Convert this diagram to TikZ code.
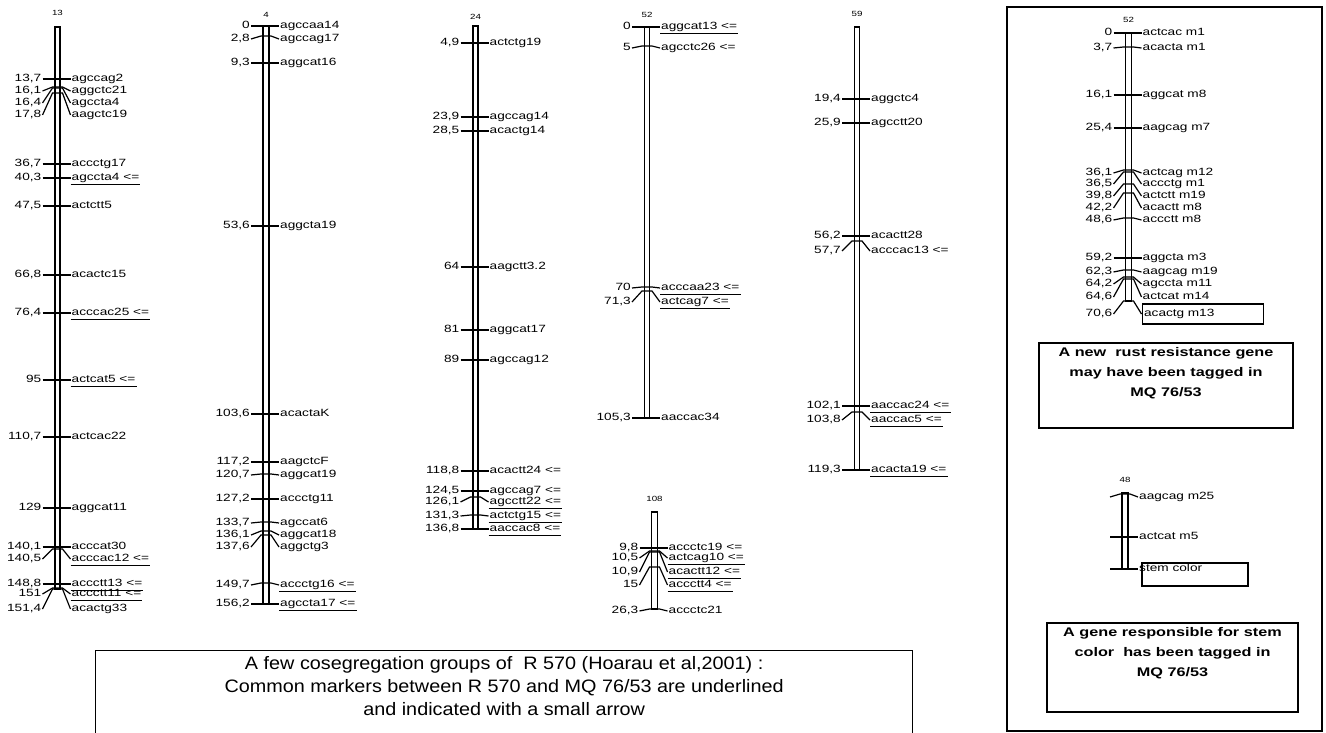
\documentclass[tikz,border=0pt]{standalone}
\usepackage{fontspec}
\setmainfont{Liberation Sans}
\newfontfamily\mapfont[FakeStretch=1.3]{Liberation Sans}
\newfontfamily\notefont[FakeStretch=1.1]{Liberation Sans}
\usetikzlibrary{positioning}
\tikzset{
  numlab/.style={font=\mapfont\fontsize{10.5}{10.5}\selectfont, anchor=east,
                 inner sep=1pt, text height=7.5pt, text depth=2.5pt},
  mrklab/.style={font=\mapfont\fontsize{10.5}{10.5}\selectfont, anchor=west,
                 inner sep=1pt, text height=7.5pt, text depth=2.5pt},
  plainlab/.style={},
  ulline/.style={draw, line width=1.2pt},
  ul/.style={append after command={([yshift=-0.5pt]\tikzlastnode.south west)
             edge[ulline] ([yshift=-0.5pt]\tikzlastnode.south east)}},
  boxlab/.style={draw, line width=1.2pt, text width=117pt, minimum height=20pt,
                 align=left, inner sep=2pt},
  tickline/.style={line width=1.2pt},
  chrbar/.style={line width=1.4pt},
  chrtitle/.style={font=\mapfont\fontsize{7.5}{7.5}\selectfont, inner sep=0pt},
  notebox/.style={draw, line width=1.4pt},
  notetext/.style={font=\mapfont\bfseries\fontsize{12.5}{20}\selectfont,
                   align=center, inner sep=0pt},
}
% marker: id, bar x, tick y, label y, position, name, label style
\newcommand{\mrk}[7]{%
  \node[numlab] (n#1) at (#2-15,#4) {#5};
  \node[mrklab,#7] (m#1) at (#2+13,#4) {#6};
  \draw[tickline] (n#1.east) -- (#2-5,#3) -- (#2+5,#3) -- (m#1.west);
}

\begin{document}
\begin{tikzpicture}[x=1pt, y=-1pt]
  \useasboundingbox (0,0) rectangle (1326,733);

  % group 13
  \node[chrtitle] (t1) at (57.5,13) {13};
  \draw[chrbar] (55,27) rectangle (60,589);
  \mrk{a1}{57.5}{79}{79}{13,7}{agccag2}{plainlab}
  \mrk{a2}{57.5}{87}{91}{16,1}{aggctc21}{plainlab}
  \mrk{a3}{57.5}{88}{103}{16,4}{agccta4}{plainlab}
  \mrk{a4}{57.5}{93}{115}{17,8}{aagctc19}{plainlab}
  \mrk{a5}{57.5}{164}{164}{36,7}{accctg17}{plainlab}
  \mrk{a6}{57.5}{178}{178}{40,3}{agccta4 <=}{ul}
  \mrk{a7}{57.5}{206}{206}{47,5}{actctt5}{plainlab}
  \mrk{a8}{57.5}{275}{275}{66,8}{acactc15}{plainlab}
  \mrk{a9}{57.5}{313}{313}{76,4}{acccac25 <=}{ul}
  \mrk{a10}{57.5}{380}{380}{95}{actcat5 <=}{ul}
  \mrk{a11}{57.5}{437}{437}{110,7}{actcac22}{plainlab}
  \mrk{a12}{57.5}{508}{508}{129}{aggcat11}{plainlab}
  \mrk{a13}{57.5}{547}{547}{140,1}{acccat30}{plainlab}
  \mrk{a14}{57.5}{549}{559}{140,5}{acccac12 <=}{ul}
  \mrk{a15}{57.5}{584}{584}{148,8}{accctt13 <=}{ul}
  \mrk{a16}{57.5}{588}{594}{151}{accctt11 <=}{ul}
  \mrk{a17}{57.5}{589}{609}{151,4}{acactg33}{plainlab}

  % group 4
  \node[chrtitle] (t2) at (266,15) {4};
  \draw[chrbar] (263,26) rectangle (269,604);
  \mrk{b1}{266}{26}{26}{0}{agccaa14}{plainlab}
  \mrk{b2}{266}{36}{39}{2,8}{agccag17}{plainlab}
  \mrk{b3}{266}{63}{63}{9,3}{aggcat16}{plainlab}
  \mrk{b4}{266}{226}{226}{53,6}{aggcta19}{plainlab}
  \mrk{b5}{266}{414}{414}{103,6}{acactaK}{plainlab}
  \mrk{b6}{266}{462}{462}{117,2}{aagctcF}{plainlab}
  \mrk{b7}{266}{474}{475}{120,7}{aggcat19}{plainlab}
  \mrk{b8}{266}{499}{499}{127,2}{accctg11}{plainlab}
  \mrk{b9}{266}{522}{523}{133,7}{agccat6}{plainlab}
  \mrk{b10}{266}{531}{535}{136,1}{aggcat18}{plainlab}
  \mrk{b11}{266}{535}{547}{137,6}{aggctg3}{plainlab}
  \mrk{b12}{266}{583}{585}{149,7}{accctg16 <=}{ul}
  \mrk{b13}{266}{604}{604}{156,2}{agccta17 <=}{ul}

  % group 24
  \node[chrtitle] (t3) at (475.5,17) {24};
  \draw[chrbar] (473,26) rectangle (478,529);
  \mrk{c1}{475.5}{43}{43}{4,9}{actctg19}{plainlab}
  \mrk{c2}{475.5}{117}{117}{23,9}{agccag14}{plainlab}
  \mrk{c3}{475.5}{131}{131}{28,5}{acactg14}{plainlab}
  \mrk{c4}{475.5}{267}{267}{64}{aagctt3.2}{plainlab}
  \mrk{c5}{475.5}{330}{330}{81}{aggcat17}{plainlab}
  \mrk{c6}{475.5}{360}{360}{89}{agccag12}{plainlab}
  \mrk{c7}{475.5}{471}{471}{118,8}{acactt24 <=}{plainlab}
  \mrk{c8}{475.5}{491}{491}{124,5}{agccag7 <=}{plainlab}
  \mrk{c9}{475.5}{497}{502}{126,1}{agcctt22 <=}{ul}
  \mrk{c10}{475.5}{515}{516}{131,3}{actctg15 <=}{ul}
  \mrk{c11}{475.5}{529}{529}{136,8}{aaccac8 <=}{ul}

  % group 52
  \node[chrtitle] (t4) at (647,15) {52};
  \draw[chrbar] (644.5,27) rectangle (649.5,418);
  \mrk{d1}{647}{27}{27}{0}{aggcat13 <=}{ul}
  \mrk{d2}{647}{46}{48}{5}{agcctc26 <=}{plainlab}
  \mrk{d3}{647}{287}{288}{70}{acccaa23 <=}{ul}
  \mrk{d4}{647}{291}{302}{71,3}{actcag7 <=}{ul}
  \mrk{d5}{647}{418}{418}{105,3}{aaccac34}{plainlab}

  % group 108
  \node[chrtitle] (t5) at (654.5,499) {108};
  \draw[chrbar] (651.5,512) rectangle (657.5,609);
  \mrk{e1}{654.5}{548}{548}{9,8}{accctc19 <=}{plainlab}
  \mrk{e2}{654.5}{551}{558}{10,5}{actcag10 <=}{ul}
  \mrk{e3}{654.5}{552}{572}{10,9}{acactt12 <=}{ul}
  \mrk{e4}{654.5}{567}{585}{15}{accctt4 <=}{ul}
  \mrk{e5}{654.5}{609}{611}{26,3}{accctc21}{plainlab}

  % group 59
  \node[chrtitle] (t6) at (857,14) {59};
  \draw[chrbar] (854.5,27) rectangle (859.5,470);
  \mrk{f1}{857}{99}{99}{19,4}{aggctc4}{plainlab}
  \mrk{f2}{857}{123}{123}{25,9}{agcctt20}{plainlab}
  \mrk{f3}{857}{236}{236}{56,2}{acactt28}{plainlab}
  \mrk{f4}{857}{241}{251}{57,7}{acccac13 <=}{plainlab}
  \mrk{f5}{857}{406}{406}{102,1}{aaccac24 <=}{ul}
  \mrk{f6}{857}{412}{420}{103,8}{aaccac5 <=}{ul}
  \mrk{f7}{857}{470}{470}{119,3}{acacta19 <=}{ul}

  % MQ 76/53 panel
  \draw[notebox] (1007,7) rectangle (1322,731);
  \node[chrtitle] (t7) at (1128.5,20) {52};
  \draw[chrbar] (1125.5,33) rectangle (1131.5,301);
  \mrk{g1}{1128.5}{33}{33}{0}{actcac m1}{plainlab}
  \mrk{g2}{1128.5}{47}{48}{3,7}{acacta m1}{plainlab}
  \mrk{g3}{1128.5}{95}{95}{16,1}{aggcat m8}{plainlab}
  \mrk{g4}{1128.5}{128}{128}{25,4}{aagcag m7}{plainlab}
  \mrk{g5}{1128.5}{170}{173}{36,1}{actcag m12}{plainlab}
  \mrk{g6}{1128.5}{172}{184}{36,5}{accctg m1}{plainlab}
  \mrk{g7}{1128.5}{184}{196}{39,8}{actctt m19}{plainlab}
  \mrk{g8}{1128.5}{193}{208}{42,2}{acactt m8}{plainlab}
  \mrk{g9}{1128.5}{218}{220}{48,6}{accctt m8}{plainlab}
  \mrk{g10}{1128.5}{258}{258}{59,2}{aggcta m3}{plainlab}
  \mrk{g11}{1128.5}{270}{272}{62,3}{aagcag m19}{plainlab}
  \mrk{g12}{1128.5}{277}{284}{64,2}{agccta m11}{plainlab}
  \mrk{g13}{1128.5}{279}{297}{64,6}{actcat m14}{plainlab}
  \mrk{g14}{1128.5}{301}{314}{70,6}{acactg m13}{boxlab}

  \node[notebox, minimum width=254pt, minimum height=85pt] (rustbox) at (1166,385.5) {};
  \node[notetext, below=5pt of rustbox.north] (rusttext)
    {A new\ \ rust resistance gene\\may have been tagged in\\MQ 76/53};

  \node[chrtitle] (t8) at (1125,480) {48};
  \draw[chrbar] (1122,493) rectangle (1128,569);
  \mrk{h1}{1125}{494}{497}{}{aagcag m25}{plainlab}
  \mrk{h2}{1125}{537}{537}{}{actcat m5}{plainlab}
  \mrk{h3}{1125}{569}{569}{}{stem color}{plainlab}
  \draw[ulline] (1142,563) rectangle (1248,586);

  \node[notebox, minimum width=251pt, minimum height=89pt] (stembox) at (1172.5,667.5) {};
  \node[notetext, below=5pt of stembox.north] (stemtext)
    {A gene responsible for stem\\color\ \ has been tagged in\\MQ 76/53};

  % legend
  \node[notebox, minimum width=817pt, minimum height=110pt, anchor=north west]
    (legbox) at (95,650) {};
  \node[font=\notefont\fontsize{18}{23}\selectfont, align=center, inner sep=0pt,
        below=6pt of legbox.north] (legtext)
    {A few cosegregation groups of\ \ R 570 (Hoarau et al,2001) :\\
     Common markers between R 570 and MQ 76/53 are underlined\\
     and indicated with a small arrow};
\end{tikzpicture}
\end{document}
